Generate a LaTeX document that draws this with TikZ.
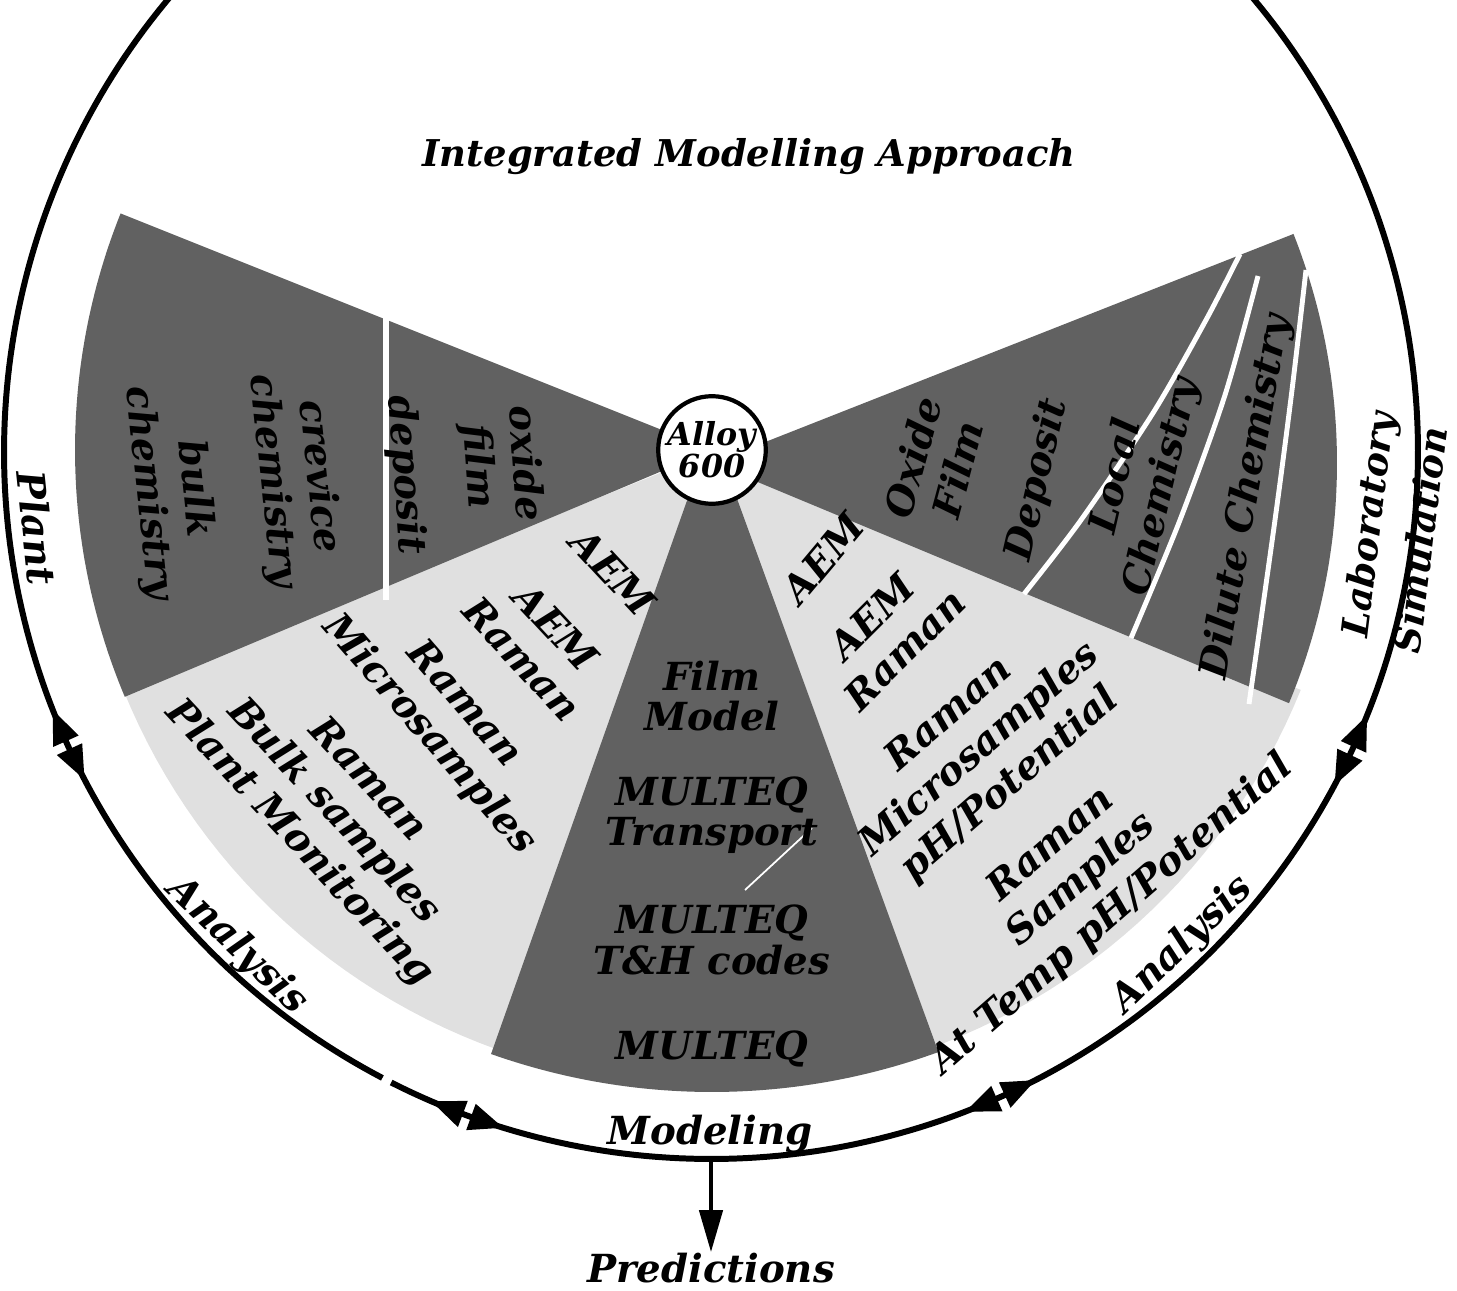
\documentclass[tikz,border=0pt]{standalone}
\usepackage{fontspec}
\setmainfont{DejaVu Serif}
\usetikzlibrary{arrows.meta}
\definecolor{darkfill}{gray}{0.38}
\definecolor{lightfill}{gray}{0.88}
\newcommand\myfs[2]{\fontsize{#1}{#2}\selectfont}
\newcommand\arrhd[2]{\fill[shift={(711,452)}] (#1:707) -- (#2:693) -- (#2:721) -- cycle;}
\begin{document}
\begin{tikzpicture}[x=0.01cm,y=-0.01cm,
  lbl/.style={font=\bfseries\itshape\myfs{11}{13.2}, align=center, inner sep=0pt},
  clbl/.style={font=\bfseries\itshape\myfs{11}{11.5}, align=center, inner sep=0pt},
  ttl/.style={font=\bfseries\itshape\myfs{10.5}{12}, inner sep=0pt},
  ring/.style={line width=1.7pt},
  sep/.style={white, line width=1.4pt}]
\useasboundingbox (0,0) rectangle (1457,1291);
\clip (0,0) rectangle (1457,1291);
% light fan
\fill[lightfill] (712,452) -- plot[domain=22:158, samples=80] ({712+635*cos(\x)},{452+635*sin(\x)}) -- cycle;
% left dark sector
\fill[darkfill] (712,450) -- plot[domain=157.2:201.8, samples=60] ({712+637*cos(\x)},{450+637*sin(\x)}) -- cycle;
% right dark sector
\fill[darkfill] (712,463) -- plot[domain=-21.5:22.6, samples=60] ({712+625*cos(\x)},{463+625*sin(\x)}) -- cycle;
% central dark sector
\fill[darkfill] (712,430) -- plot[domain=70:109.5, samples=60] ({712+662*cos(\x)},{430+662*sin(\x)}) -- cycle;
% white separators
\draw[white, line width=1.7pt] (386,316) -- (386,600);
\draw[sep] plot[smooth] coordinates {(1024,594) (1081,520) (1153,413) (1206,320) (1240,254)};
\draw[sep] plot[smooth] coordinates {(1131,638) (1180,520) (1225,395) (1258,276)};
\draw[sep] plot[smooth] coordinates {(1249,704) (1275,520) (1292,390) (1306,270)};
\draw[white, line width=0.5pt] (812,828) -- (745,890);
% centre
\node[circle, draw, line width=1.2pt, fill=white, minimum size=30.6pt, inner sep=0pt,
      font=\bfseries\itshape\myfs{9}{9}, align=center] (alloy) at (712,450) {Alloy\\600};
% left dark labels
\node[lbl, rotate=-84] (crev) at (295,479) {crevice\\chemistry};
\node[lbl, rotate=-84] (bulk) at (171,491) {bulk\\chemistry};
\node[lbl, rotate=-86] (oxl) at (501,465) {oxide\\film};
\node[lbl, rotate=-86] (depl) at (405,475) {deposit};
% right dark labels
\node[lbl, rotate=75] (oxr) at (935,463) {Oxide\\Film};
\node[lbl, rotate=77] (depr) at (1038,480) {Deposit};
\node[lbl, rotate=77] (loc) at (1140,482) {Local\\Chemistry};
\node[lbl, rotate=80] (dil) at (1247,497) {Dilute Chemistry};
% left light labels
\node[lbl, rotate=-47] (la1) at (613,572) {AEM};
\node[lbl, rotate=-47] (la2) at (539,643) {AEM\\Raman};
\node[lbl, rotate=-49] (la3) at (446,720) {Raman\\Microsamples};
\node[lbl, rotate=-47] (la4) at (333,812) {Raman\\Bulk samples\\Plant Monitoring};
% right light labels
\node[lbl, rotate=50] (ra1) at (823,558) {AEM};
\node[lbl, rotate=45] (ra2) at (888,633) {AEM\\Raman};
\node[lbl, rotate=41] (ra3) at (980,750) {Raman\\Microsamples\\pH/Potential};
\node[lbl, rotate=41] (ra4) at (1082,880) {Raman\\Samples\\At Temp pH/Potential};
% central labels
\node[clbl] (film) at (712,696) {Film\\Model};
\node[clbl] (mt1) at (712,815) {MULTEQ\\Transport};
\node[clbl] (mt2) at (712,940) {MULTEQ\\T\&H codes};
\node[clbl] (mt3) at (712,1049) {MULTEQ};
% title
\node[ttl] (title) at (749,157) {Integrated Modelling Approach};
% outer ring
\draw[ring] plot[domain=117.7:476.9, samples=400] ({711+707*cos(\x)},{452+707*sin(\x)});
\arrhd{158.6}{155.85}\arrhd{152.4}{155.15}
\arrhd{113.3}{110.55}\arrhd{107.1}{109.85}
\arrhd{68.9}{66.15}\arrhd{62.7}{65.45}
\arrhd{28.1}{25.35}\arrhd{21.9}{24.65}
% ring labels
\node[lbl] (mod) at (710,1134) {Modeling};
\node[lbl, rotate=-44] (anl) at (237,946) {Analysis};
\node[lbl, rotate=44] (anr) at (1183,945) {Analysis};
\node[lbl, rotate=-84] (plant) at (37,528) {Plant};
\node[lbl, font=\bfseries\itshape\myfs{10.5}{12}, rotate=83] (lab) at (1371,525) {Laboratory};
\node[lbl, font=\bfseries\itshape\myfs{10.5}{12}, rotate=83] (sim) at (1420,540) {Simulation};
% predictions
\coordinate (mb) at (711,1159);
\node[lbl] (pred) at (711,1268) {Predictions};
\draw[line width=1.4pt, -{Triangle[length=12pt,width=6.5pt]}] (mb) -- (pred.north);
\end{tikzpicture}
\end{document}
